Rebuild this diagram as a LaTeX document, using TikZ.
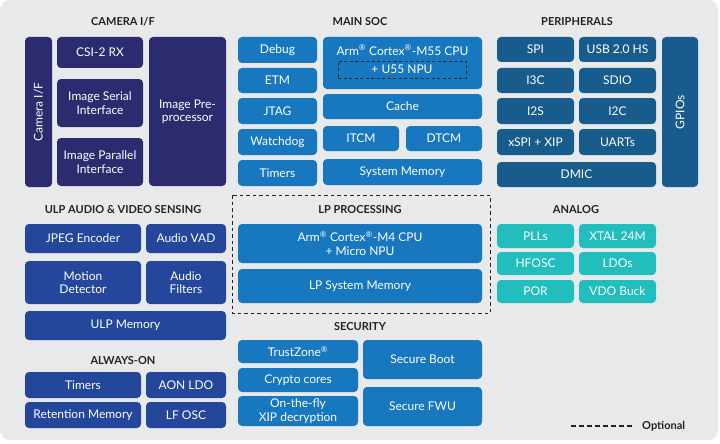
\documentclass[tikz,border=0pt]{standalone}
\usepackage{fontspec}
\setmainfont{Lato}
\definecolor{bgc}{HTML}{E8E9EA}
\definecolor{camc}{HTML}{2C2B6F}
\definecolor{socc}{HTML}{1878BF}
\definecolor{perc}{HTML}{175C8D}
\definecolor{ulpc}{HTML}{24469B}
\definecolor{anac}{HTML}{22BDBD}
\definecolor{titc}{HTML}{222222}
\newcommand\bx[7]{\node[#2, minimum width={(#5-#3)*1pt}, minimum height={(#6-#4)*1pt}] (#1) at ({(#3+#5)/2},{(#4+#6)/2}) {#7};}
\newcommand\rbx[7]{\node[#2, rotate=90, minimum height={(#5-#3)*1pt}, minimum width={(#6-#4)*1pt}] (#1) at ({(#3+#5)/2},{(#4+#6)/2}) {#7};}
\begin{document}
\begin{tikzpicture}[x=1pt,y=-1pt,
  blk/.style={rounded corners=4pt, inner sep=0pt, outer sep=0pt, text=white, align=center,
    font=\fontsize{12}{13.5}\selectfont},
  cam/.style={blk, fill=camc},
  soc/.style={blk, fill=socc},
  per/.style={blk, fill=perc},
  ulp/.style={blk, fill=ulpc},
  ana/.style={blk, fill=anac},
  ttl/.style={font=\fontsize{11}{13}\selectfont\bfseries, text=titc, inner sep=0pt},
  opt/.style={draw=titc, dashed, dash pattern=on 4.5pt off 3.5pt, line width=1.1pt}]
\useasboundingbox (0,0) rectangle (720,444);
\fill[white] (0,0) rectangle (720,444);
\fill[bgc, rounded corners=10pt] (0,0) rectangle (718,440);

% titles
\node[ttl] (tcam) at (123,22) {CAMERA I/F};
\node[ttl] (tsoc) at (360,22) {MAIN SOC};
\node[ttl] (tper) at (577,22) {PERIPHERALS};
\node[ttl] (tulp) at (123,210) {ULP AUDIO \& VIDEO SENSING};
\node[ttl] (taon) at (123,361) {ALWAYS-ON};
\node[ttl] (tlp) at (360,210) {LP PROCESSING};
\node[ttl] (tsec) at (360,327) {SECURITY};
\node[ttl] (tana) at (576,210) {ANALOG};

% camera
\rbx{camif}{cam}{25}{37}{52}{187}{Camera I/F}
\bx{csi}{cam}{57}{37}{143}{68}{CSI-2 RX}
\bx{isi}{cam}{57}{79}{143}{127}{Image Serial\\Interface}
\bx{ipi}{cam}{57}{138}{143}{186}{Image Parallel\\Interface}
\bx{ipp}{cam}{149}{37}{226}{186}{Image Pre-\\processor}

% main soc
\bx{debug}{soc}{238}{37}{317}{63}{Debug}
\bx{etm}{soc}{238}{68}{317}{93}{ETM}
\bx{jtag}{soc}{238}{98}{317}{124}{JTAG}
\bx{wdog}{soc}{238}{129}{317}{155}{Watchdog}
\bx{tim}{soc}{238}{160}{317}{186}{Timers}
\bx{cpu}{soc}{323}{37}{482}{89}{}
\node[blk, fill=none] (cputxt) at (402.5,50) {Arm\textsuperscript{®} Cortex\textsuperscript{®}-M55 CPU};
\bx{npu}{blk, fill=none, rounded corners=0pt, draw=black!85, dashed, dash pattern=on 3pt off 2.5pt, line width=0.9pt}{338}{61}{466}{78}{+ U55 NPU}
\bx{cache}{soc}{323}{94}{482}{119}{Cache}
\bx{itcm}{soc}{323}{126}{399}{151}{ITCM}
\bx{dtcm}{soc}{406}{126}{482}{151}{DTCM}
\bx{sysmem}{soc}{323}{159}{482}{185}{System Memory}

% peripherals
\bx{spi}{per}{497}{37}{574}{62}{SPI}
\bx{usb}{per}{579}{37}{656}{62}{USB 2.0 HS}
\bx{i3c}{per}{497}{68}{574}{93}{I3C}
\bx{sdio}{per}{579}{68}{656}{93}{SDIO}
\bx{i2s}{per}{497}{98}{574}{124}{I2S}
\bx{i2c}{per}{579}{98}{656}{124}{I2C}
\bx{xspi}{per}{497}{129}{574}{155}{xSPI + XIP}
\bx{uarts}{per}{579}{129}{656}{155}{UARTs}
\bx{dmic}{per}{497}{162}{656}{187}{DMIC}
\rbx{gpio}{per}{662}{37}{698}{187}{GPIOs}

% ULP
\bx{jpeg}{ulp}{25}{224}{141}{253}{JPEG Encoder}
\bx{vad}{ulp}{146}{224}{226}{253}{Audio VAD}
\bx{motion}{ulp}{25}{261}{141}{304}{Motion\\Detector}
\bx{filt}{ulp}{146}{261}{226}{304}{Audio\\Filters}
\bx{ulpmem}{ulp}{25}{311}{226}{340}{ULP Memory}
\bx{atim}{ulp}{25}{372}{141}{398}{Timers}
\bx{aonldo}{ulp}{146}{372}{226}{398}{AON LDO}
\bx{retmem}{ulp}{25}{402}{141}{428}{Retention Memory}
\bx{lfosc}{ulp}{146}{402}{226}{428}{LF OSC}

% LP processing
\draw[opt, line width=1pt, dash pattern=on 3.5pt off 3pt] (232,195) rectangle (490,313);
\bx{m4}{soc}{238}{224}{482}{263}{Arm\textsuperscript{®} Cortex\textsuperscript{®}-M4 CPU\\+ Micro NPU}
\bx{lpmem}{soc}{238}{269}{482}{303}{LP System Memory}

% security
\bx{tz}{soc}{238}{340}{358}{363}{TrustZone\textsuperscript{®}}
\bx{crypto}{soc}{238}{368}{358}{392}{Crypto cores}
\bx{otf}{soc}{238}{396}{358}{426}{On-the-fly\\XIP decryption}
\bx{sboot}{soc}{363}{340}{482}{379}{Secure Boot}
\bx{sfwu}{soc}{363}{387}{482}{426}{Secure FWU}

% analog
\bx{plls}{ana}{497}{224}{574}{248}{PLLs}
\bx{xtal}{ana}{579}{224}{656}{248}{XTAL 24M}
\bx{hfosc}{ana}{497}{252}{574}{275}{HFOSC}
\bx{ldos}{ana}{579}{252}{656}{275}{LDOs}
\bx{por}{ana}{497}{280}{574}{303}{POR}
\bx{vdo}{ana}{579}{280}{656}{303}{VDO Buck}

% legend
\coordinate (la) at (571,426);
\node[ttl, anchor=west] (lopt) at (642,426) {Optional};
\draw[opt] (la) -- ([xshift=-7pt]lopt.west);
\end{tikzpicture}
\end{document}
